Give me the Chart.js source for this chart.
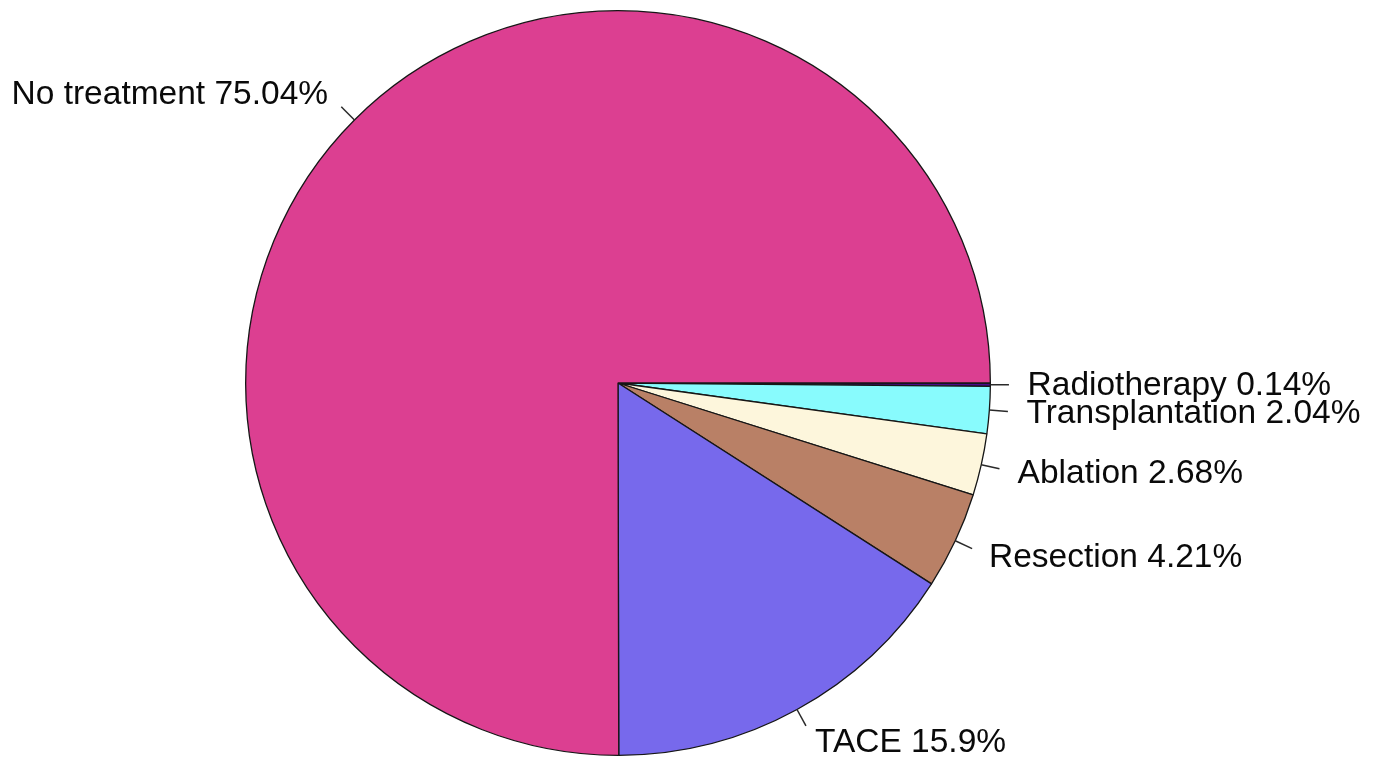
<!DOCTYPE html>
<html>
<head>
<meta charset="utf-8">
<title>Treatment distribution</title>
<script src="https://cdn.jsdelivr.net/npm/chart.js@4/dist/chart.umd.min.js"></script>
<style>
  html, body { margin: 0; padding: 0; background: #fff; }
  #wrap { width: 1376px; height: 766px; }
</style>
</head>
<body>
<div id="wrap"><canvas id="pieChart" width="1376" height="766"></canvas></div>
<script>
// slices, clockwise from 3 o'clock
var treatments = ["Radiotherapy", "Transplantation", "Ablation", "Resection", "TACE", "No treatment"];
var percents = [0.14, 2.04, 2.68, 4.21, 15.9, 75.04];
var sliceColors = ["#4b0a8a", "#88fbfd", "#fdf6dc", "#b98066", "#7769ec", "#dc3f91"];

// leader line from the rim to 1.05r, label at 1.1r
var pieLabels = {
  id: "pieLabels",
  afterDatasetsDraw(chart) {
    var ctx = chart.ctx;
    var arcs = chart.getDatasetMeta(0).data;
    ctx.save();
    ctx.font = "33.5px 'Liberation Sans', Arial, sans-serif";
    ctx.fillStyle = "#0a0a0a";
    ctx.strokeStyle = "#2a2a2a";
    ctx.lineWidth = 1.5;
    ctx.textBaseline = "middle";
    arcs.forEach(function (arc, i) {
      var mid = (arc.startAngle + arc.endAngle) / 2;
      var r = arc.outerRadius;
      var cx = Math.cos(mid), cy = Math.sin(mid);
      ctx.beginPath();
      ctx.moveTo(arc.x + r * cx, arc.y + r * cy);
      ctx.lineTo(arc.x + 1.05 * r * cx, arc.y + 1.05 * r * cy);
      ctx.stroke();
      ctx.textAlign = cx > 0 ? "left" : "right";
      ctx.fillText(treatments[i] + " " + percents[i] + "%", arc.x + 1.1 * r * cx, arc.y + 1.1 * r * cy + 1);
    });
    ctx.restore();
  }
};

new Chart("pieChart", {
  type: "pie",
  data: {
    labels: treatments,
    datasets: [{
      data: percents,
      backgroundColor: sliceColors,
      borderColor: "#161616",
      borderWidth: 1.3
    }]
  },
  options: {
    responsive: false,
    animation: false,
    rotation: 90,
    layout: { padding: { left: 245, right: 385, top: 10, bottom: 10 } },
    plugins: {
      legend: { display: false },
      tooltip: { enabled: false }
    }
  },
  plugins: [pieLabels]
});
</script>
</body>
</html>
